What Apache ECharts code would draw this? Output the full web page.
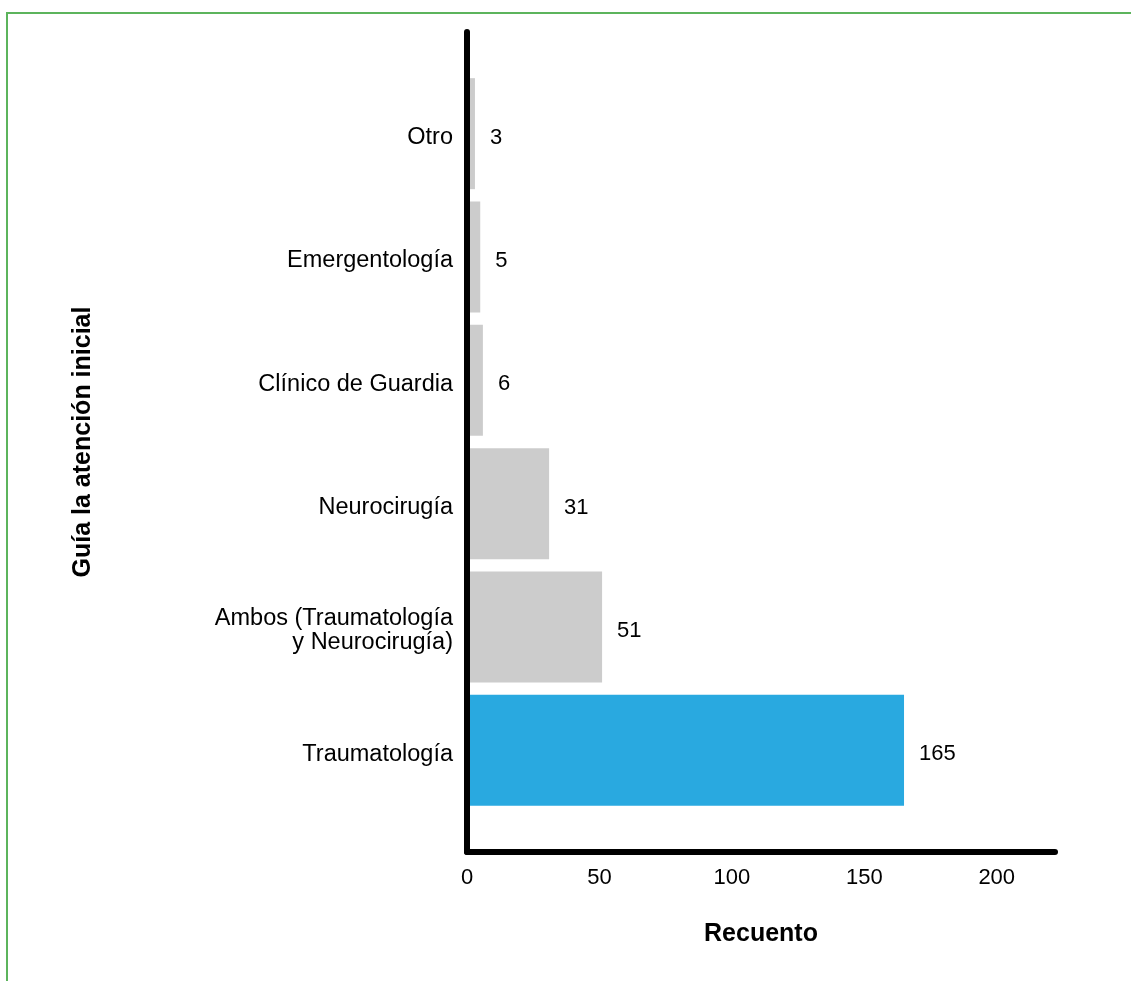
<!DOCTYPE html>
<html>
<head>
<meta charset="utf-8">
<script src="https://cdn.jsdelivr.net/npm/echarts@6/dist/echarts.min.js"></script>
<style>
  html, body { margin: 0; padding: 0; background: #ffffff; }
  #chart { position: absolute; left: 0; top: 0; width: 1131px; height: 981px; }
  #frame { position: absolute; left: 6px; top: 12px; right: -10px; bottom: -10px;
           border-top: 2px solid #5cb45c; border-left: 2px solid #5cb45c; pointer-events: none; }
</style>
</head>
<body>
<div id="chart"></div>
<div id="frame"></div>
<script>
// Data (bottom to top, as ECharts category y axes run)
const categories = [
  'Traumatología',
  'Ambos (Traumatología\ny Neurocirugía)',
  'Neurocirugía',
  'Clínico de Guardia',
  'Emergentología',
  'Otro'
];
const counts = [165, 51, 31, 6, 5, 3];
const highlightCategory = 'Traumatología';
const xTicks = [0, 50, 100, 150, 200];
const xAxisTitle = 'Recuento';
const yAxisTitle = 'Guía la atención inicial';

const FONT = '"Liberation Sans", Arial, Helvetica, sans-serif';
const chart = echarts.init(document.getElementById('chart'), null, { renderer: 'canvas' });

const xMin = 0, xMax = 222, xInterval = xTicks[1] - xTicks[0];

chart.setOption({
  animation: false,
  backgroundColor: '#ffffff',
  textStyle: { fontFamily: FONT },
  grid: [
    { left: 467, right: 76, top: 72, height: 740, outerBoundsMode: 'none', containLabel: false },
    { left: 467, right: 76, top: 32, height: 820, outerBoundsMode: 'none', containLabel: false },
    { left: 467, right: 76, top: 76, height: 740, outerBoundsMode: 'none', containLabel: false }
  ],
  xAxis: [
    { gridIndex: 0, type: 'value', min: xMin, max: xMax, show: false },
    {
      gridIndex: 1, type: 'value', min: xMin, max: xMax, interval: xInterval,
      axisLine: { show: true, lineStyle: { color: '#000', width: 6 } },
      axisTick: { show: false },
      splitLine: { show: false },
      axisLabel: { show: true, fontSize: 22, color: '#000', margin: 15, showMaxLabel: false, fontFamily: FONT },
      name: xAxisTitle, nameLocation: 'middle', nameGap: 70,
      nameTextStyle: { fontSize: 25, fontWeight: 'bold', color: '#000', fontFamily: FONT },
      z: 3
    },
    { gridIndex: 2, type: 'value', min: xMin, max: xMax, show: false }
  ],
  yAxis: [
    {
      gridIndex: 0, type: 'category', data: categories,
      axisLine: { show: false }, axisTick: { show: false }, splitLine: { show: false },
      axisLabel: { show: false }
    },
    {
      gridIndex: 1, type: 'value', min: 0, max: 1,
      axisLine: { show: true, lineStyle: { color: '#000', width: 6 } },
      axisTick: { show: false }, splitLine: { show: false }, axisLabel: { show: false },
      name: yAxisTitle, nameLocation: 'middle', nameRotate: 90, nameGap: 371,
      nameTextStyle: { fontSize: 25, fontWeight: 'bold', color: '#000', fontFamily: FONT },
      z: 3
    },
    {
      gridIndex: 2, type: 'category', data: categories,
      axisLine: { show: false }, axisTick: { show: false }, splitLine: { show: false },
      axisLabel: { fontSize: 23.5, color: '#000', margin: 14, lineHeight: 24, align: 'right', fontFamily: FONT }
    }
  ],
  series: [
    {
      type: 'bar',
      xAxisIndex: 0, yAxisIndex: 0,
      data: counts,
      barWidth: '90%',
      itemStyle: {
        color: (p) => p.name === highlightCategory ? '#29a9e0' : '#cccccc'
      },
      label: { show: true, position: 'right', distance: 15, offset: [0, 4],
               fontSize: 22, color: '#000', fontFamily: FONT },
      z: 2
    }
  ]
});
</script>
</body>
</html>
